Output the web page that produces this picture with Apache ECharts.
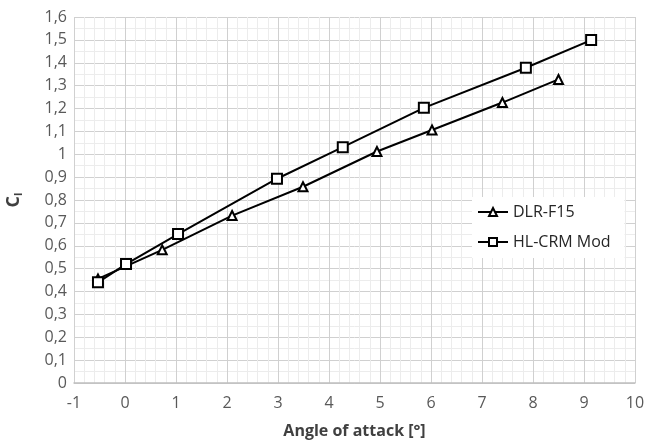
<!DOCTYPE html>
<html>
<head>
<meta charset="utf-8">
<script src="https://cdn.jsdelivr.net/npm/echarts@6/dist/echarts.min.js"></script>
<style>
  html, body { margin: 0; padding: 0; background: #fff; }
  #chart { width: 646px; height: 441px; }
</style>
</head>
<body>
<div id="chart"></div>
<script>
// angle of attack vs lift coefficient
const dlrAlpha = [-0.53, 0.73, 2.1, 3.49, 4.94, 6.02, 7.4, 8.5]
const dlrCl = [0.455, 0.582, 0.732, 0.858, 1.012, 1.106, 1.226, 1.327]
const crmAlpha = [-0.53, 0.02, 1.04, 2.98, 4.27, 5.86, 7.86, 9.14]
const crmCl = [0.44, 0.52, 0.651, 0.893, 1.031, 1.203, 1.378, 1.499]
const seriesNames = ['DLR-F15', 'HL-CRM Mod']

const font = 'Open Sans'
const chart = echarts.init(document.getElementById('chart'))

function pairs(xs, ys) {
  return xs.map((x, i) => [x, ys[i]])
}

chart.setOption({
  animation: false,
  grid: {
    left: 74,
    right: 11,
    top: 17,
    bottom: 58,
    containLabel: false,
    outerBoundsMode: 'none'
  },
  legend: {
    orient: 'vertical',
    left: 472,
    top: 197,
    width: 148,
    backgroundColor: '#fff',
    padding: [7, 14, 8, 5],
    itemGap: 14,
    itemWidth: 30,
    itemHeight: 10,
    textStyle: { fontFamily: font, fontSize: 16, color: '#262626' },
    data: seriesNames
  },
  xAxis: {
    type: 'value',
    min: -1,
    max: 10,
    interval: 1,
    name: 'Angle of attack [°]',
    nameLocation: 'middle',
    nameGap: 40,
    nameTextStyle: { fontFamily: font, fontSize: 16, fontWeight: 'bold', color: '#404040' },
    axisLine: { show: true, onZero: false, lineStyle: { color: '#bfbfbf', width: 1.5 } },
    axisTick: { show: false },
    axisLabel: { fontFamily: font, fontSize: 16, color: '#595959', margin: 12 },
    splitLine: { show: true, lineStyle: { color: '#d0d0d0', width: 1 } },
    minorTick: { show: false, splitNumber: 5 },
    minorSplitLine: { show: true, lineStyle: { color: '#ececec', width: 1 } }
  },
  yAxis: {
    type: 'value',
    min: 0,
    max: 1.6,
    interval: 0.1,
    name: '{c|C}{s|l}',
    nameLocation: 'middle',
    nameGap: 50,
    nameTextStyle: {
      fontFamily: font,
      color: '#404040',
      rich: {
        c: { fontFamily: font, fontSize: 18, fontWeight: 'bold', color: '#404040' },
        s: { fontFamily: font, fontSize: 11, fontWeight: 'bold', color: '#404040', verticalAlign: 'bottom', padding: [9, 0, 0, 0] }
      }
    },
    axisLine: { show: false },
    axisTick: { show: false },
    axisLabel: {
      fontFamily: font,
      fontSize: 16,
      color: '#595959',
      margin: 7,
      formatter: v => String(Math.round(v * 10) / 10).replace('.', ',')
    },
    splitLine: { show: true, lineStyle: { color: '#d0d0d0', width: 1 } },
    minorTick: { show: false, splitNumber: 2 },
    minorSplitLine: { show: true, lineStyle: { color: '#ececec', width: 1 } }
  },
  series: [
    {
      name: seriesNames[0],
      type: 'line',
      data: pairs(dlrAlpha, dlrCl),
      symbol: 'triangle',
      symbolSize: 9,
      lineStyle: { color: '#000', width: 2 },
      itemStyle: { color: '#fff', borderColor: '#000', borderWidth: 2 },
      z: 3
    },
    {
      name: seriesNames[1],
      type: 'line',
      data: pairs(crmAlpha, crmCl),
      symbol: 'rect',
      symbolSize: 10,
      lineStyle: { color: '#000', width: 2 },
      itemStyle: { color: '#fff', borderColor: '#000', borderWidth: 2 },
      z: 4
    }
  ]
})
</script>
</body>
</html>
